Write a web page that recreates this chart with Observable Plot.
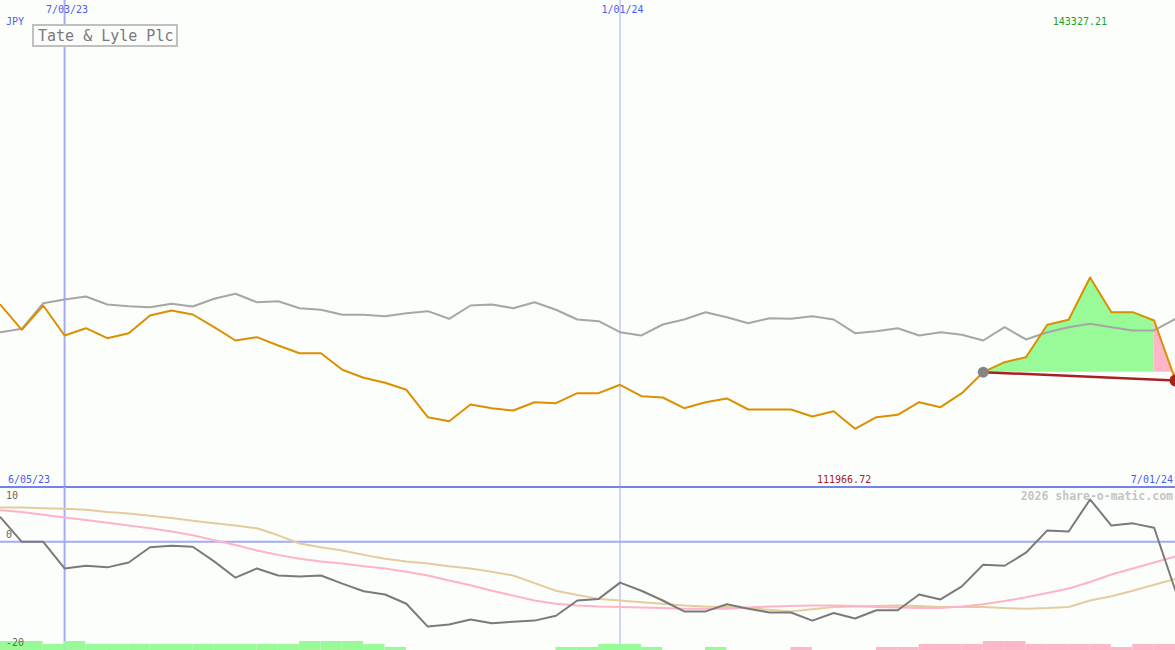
<!DOCTYPE html>
<html><head><meta charset="utf-8">
<script src="https://cdn.jsdelivr.net/npm/d3@7"></script>
<script src="https://cdn.jsdelivr.net/npm/@observablehq/plot@0.6"></script>
<style>
html,body{margin:0;padding:0;background:#fcfefc;}
#chart{position:relative;width:1175px;height:650px;background:#fcfefc;overflow:hidden;}
#chart > svg, #chart > div{position:absolute;left:0;}
</style></head><body><div id="chart"></div>
<script>
const dates = ["2023-06-12","2023-06-19","2023-06-26","2023-07-03","2023-07-10","2023-07-17","2023-07-24","2023-07-31","2023-08-07","2023-08-14",
"2023-08-21","2023-08-28","2023-09-04","2023-09-11","2023-09-18","2023-09-25","2023-10-02","2023-10-09","2023-10-16","2023-10-23",
"2023-10-30","2023-11-06","2023-11-13","2023-11-20","2023-11-27","2023-12-04","2023-12-11","2023-12-18","2023-12-25","2024-01-01",
"2024-01-08","2024-01-15","2024-01-22","2024-01-29","2024-02-05","2024-02-12","2024-02-19","2024-02-26","2024-03-04","2024-03-11",
"2024-03-18","2024-03-25","2024-04-01","2024-04-08","2024-04-15","2024-04-22","2024-04-29","2024-05-06","2024-05-13","2024-05-20",
"2024-05-27","2024-06-03","2024-06-10","2024-06-17","2024-06-24","2024-07-01"];
const price = [123733,122123,123688,121756,122226,121582,121904,123044,123366,123108,
122290,121434,121646,121112,120616,120616,119547,119032,118710,118259,
116494,116237,117312,117074,116926,117460,117396,118040,118040,118581,
117847,117763,117074,117460,117699,116990,116990,116990,116539,116881,
115747,116494,116649,117460,117138,118040,119392,120036,120358,122445,
122767,125491,123256,123256,122722,118858];
const market = [121968,122187,123836,124074,124267,123752,123643,123578,123797,123623,
124119,124441,123900,123965,123514,123411,123089,123089,122999,123192,
123321,122831,123688,123752,123514,123900,123411,122786,122677,121968,
121756,122464,122786,123256,122934,122548,122870,122831,122999,122786,
121904,122033,122226,121756,121968,121801,121434,122290,121498,121968,
122290,122509,122290,122078,122078,122831];
const momentum = [4.5,0,0,-4.9,-4.4,-4.7,-3.8,-1.0,-0.7,-0.9,
-3.6,-6.6,-4.9,-6.2,-6.4,-6.2,-7.7,-9.1,-9.7,-11.4,
-15.6,-15.2,-14.3,-15.0,-14.7,-14.5,-13.6,-10.8,-10.5,-7.5,
-9.0,-10.8,-12.8,-12.8,-11.5,-12.3,-13.0,-13.0,-14.5,-13.1,
-14.1,-12.6,-12.6,-9.7,-10.6,-8.2,-4.2,-4.4,-2.0,2.1,
1.9,7.8,3.0,3.4,2.6,-9.0];
const maFast = [5.8,5.5,5.0,4.5,4.0,3.5,3.0,2.5,1.9,1.2,
0.3,-0.6,-1.6,-2.4,-3.1,-3.6,-4.0,-4.5,-4.9,-5.5,
-6.2,-7.1,-8.0,-9.0,-9.9,-10.8,-11.4,-11.7,-11.9,-12.0,
-12.1,-12.2,-12.3,-12.3,-12.3,-12.1,-11.9,-11.8,-11.7,-11.7,
-11.8,-12.0,-12.1,-12.2,-12.2,-11.9,-11.5,-10.9,-10.2,-9.4,
-8.6,-7.4,-6.0,-4.9,-3.8,-2.7];
const maSlow = [6.3,6.3,6.2,6.1,5.9,5.5,5.2,4.8,4.4,3.9,
3.4,3.0,2.5,1.2,-0.3,-1.0,-1.6,-2.4,-3.1,-3.6,
-4.0,-4.5,-4.9,-5.5,-6.2,-7.6,-9.0,-9.8,-10.5,-10.8,
-11.1,-11.4,-11.7,-11.9,-12.0,-12.2,-12.5,-12.8,-12.4,-12.0,
-11.9,-11.8,-11.7,-11.8,-12.0,-12.0,-12.0,-12.2,-12.3,-12.2,
-12.0,-10.8,-10.0,-9.0,-7.9,-6.8];
const barLevel = [3,3,2,3,2,2,2,2,2,2, 2,2,2,2,3,3,3,2,1,0, 0,0,0,0,0,0,1,1,2,2,
1,0,0,1,0,0,0,-1,0,0, 0,-1,-1,-2,-2,-2,-3,-3,-2,-2, -2,-2,-1,-2,-2];
const markerDates = ["2023-07-03","2024-01-01"];
const markerLabels = ["7/03/23","1/01/24"];
const signalStart = 46, signalEnd = 54;
const yMax = 143327.21, yMin = 111966.72;
const title = "Tate & Lyle Plc";
const currency = "JPY";
const startLabel = "6/05/23", endLabel = "7/01/24";
const credit = "2026 share-o-matic.com";
const lowerTicks = ["10","0","-20"];

const W = 1175, HTOP = 487, HBOT = 163;
const parse = s => new Date(s + "T00:00:00Z");
const D = dates.map(parse);
const xDomain = [D[0], D[D.length - 1]];
const rows = D.map((d, i) => ({date: d, price: price[i], market: market[i], mom: momentum[i], fast: maFast[i], slow: maSlow[i]}));
const mk = markerDates.map(parse);
const base = price[signalStart];
const greenRows = rows.slice(signalStart, signalEnd + 1);
const pinkRows = rows.slice(signalEnd, rows.length);
const stopRows = [rows[signalStart], rows[rows.length - 1]];
const bars = barLevel.map((l, i) => ({x1: D[i], x2: D[i + 1], h: Math.abs(l), pos: l > 0})).filter(b => b.h > 0);

const chart = document.getElementById("chart");
const common = {width: W, marginTop: 0, marginRight: 0, marginBottom: 0, marginLeft: 0,
  style: {background: "transparent", overflow: "visible"}};

const topPlot = Plot.plot({...common, height: HTOP,
  x: {type: "utc", domain: xDomain, axis: null},
  y: {domain: [yMin, yMax], axis: null},
  marks: [
    Plot.ruleX(mk, {stroke: "#a3abf7", strokeWidth: (d, i) => i === 0 ? 2 : 1}),
    Plot.areaY(greenRows, {x: "date", y1: () => base, y2: "price", fill: "#98fb98"}),
    Plot.areaY(pinkRows, {x: "date", y1: () => base, y2: "price", fill: "#ffb6c8"}),
    Plot.line(rows, {x: "date", y: "market", stroke: "#a6a6a6", strokeWidth: 2}),
    Plot.line(rows, {x: "date", y: "price", stroke: "#dc9000", strokeWidth: 2}),
    Plot.line(stopRows, {x: "date", y: "price", stroke: "#a82020", strokeWidth: 2.5}),
    Plot.dot([rows[signalStart]], {x: "date", y: "price", r: 5.5, fill: "#858585"}),
    Plot.dot([rows[rows.length - 1]], {x: "date", y: "price", r: 6, fill: "#a82020"})
  ]});
topPlot.style.top = "0px";
chart.appendChild(topPlot);

const divider = document.createElement("div");
divider.style.cssText = "top:486px;width:1175px;height:2px;background:#7482ee;";
chart.appendChild(divider);

const botPlot = Plot.plot({...common, height: HBOT,
  x: {type: "utc", domain: xDomain, axis: null},
  y: {domain: [-20, 10], axis: null},
  marks: [
    Plot.ruleX(mk, {stroke: "#a3abf7", strokeWidth: (d, i) => i === 0 ? 2 : 1}),
    Plot.ruleY([0], {stroke: "#a3abf7", strokeWidth: 2}),
    Plot.line(rows, {x: "date", y: "slow", stroke: "#e4cc9c", strokeWidth: 2}),
    Plot.line(rows, {x: "date", y: "fast", stroke: "#ffb3c6", strokeWidth: 2}),
    Plot.line(rows, {x: "date", y: "mom", stroke: "#7a7a7a", strokeWidth: 2})
  ]});
botPlot.style.top = HTOP + "px";
chart.appendChild(botPlot);

const histo = Plot.plot({...common, height: 9,
  x: {type: "utc", domain: xDomain, axis: null},
  y: {domain: [0, 3], axis: null},
  marks: [Plot.rect(bars, {x1: "x1", x2: "x2", y1: 0, y2: "h", fill: d => d.pos ? "#98fb98" : "#ffb6c8"})]});
histo.style.top = "641px";
chart.appendChild(histo);

const xs = topPlot.scale("x");
const ov = d3.select(chart).append("svg").attr("width", W).attr("height", 650).style("top", "0px").style("pointer-events", "none");
const font = "'DejaVu Sans Mono', monospace";
function label(t, x, y, anchor, color, size, weight) {
  ov.append("text").attr("x", x).attr("y", y).attr("text-anchor", anchor).attr("fill", color)
    .attr("font-size", size).attr("font-family", font).attr("font-weight", weight || "normal").text(t);
}
mk.forEach((d, i) => label(markerLabels[i], xs.apply(d) + 3, 13, "middle", "#4a5cf0", 10));
label(currency, 6, 25, "start", "#4a5cf0", 10);
label(d3.format(".2f")(yMax), 1107, 25, "end", "#22a022", 10);
label(startLabel, 8, 483, "start", "#4a5cf0", 10);
label(d3.format(".2f")(yMin), 817, 483, "start", "#a82020", 10);
label(endLabel, 1173, 483, "end", "#4a5cf0", 10);
label(credit, 1173, 500, "end", "#c4c4c4", 11.5, "bold");
label(lowerTicks[0], 6, 499, "start", "#666", 10);
label(lowerTicks[1], 6, 538, "start", "#666", 10);
label(lowerTicks[2], 6, 646, "start", "#666", 10);
ov.append("rect").attr("x", 33).attr("y", 25).attr("width", 144).attr("height", 21)
  .attr("fill", "#fcfefc").attr("stroke", "#c0c0c0").attr("stroke-width", 2);
label(title, 38, 41, "start", "#7a7a7a", 15);
</script></body></html>
